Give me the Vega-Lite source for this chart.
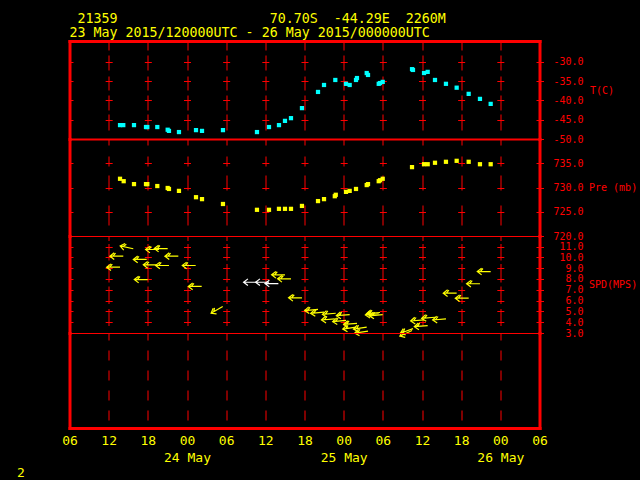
{
  "$schema": "https://vega.github.io/schema/vega-lite/v6.json",
  "background": "#000000",
  "padding": {"left": 16.5, "top": 11, "right": 5, "bottom": 12},
  "spacing": 0,
  "bounds": "flush",
  "title": {
    "text": ["\u200b\u00a021359\u00a0\u00a0\u00a0\u00a0\u00a0\u00a0\u00a0\u00a0\u00a0\u00a0\u00a0\u00a0\u00a0\u00a0\u00a0\u00a0\u00a0\u00a0\u00a070.70S\u00a0\u00a0-44.29E\u00a0\u00a02260M", "23\u00a0May\u00a02015/120000UTC\u00a0-\u00a026\u00a0May\u00a02015/000000UTC"],
    "anchor": "start",
    "frame": "group",
    "font": "DejaVu Sans Mono",
    "fontSize": 13.3,
    "fontWeight": "normal",
    "color": "#ffff00",
    "lineHeight": 14,
    "offset": 2
  },
  "config": {
    "view": {"stroke": null},
    "font": "DejaVu Sans Mono",
    "axis": {
      "labelFont": "DejaVu Sans Mono",
      "titleFont": "DejaVu Sans Mono",
      "labelColor": "#ff0000",
      "titleColor": "#ff0000",
      "labelFontSize": 10,
      "titleFontSize": 10,
      "titleFontWeight": "normal",
      "domainColor": "#ff0000",
      "tickColor": "#ff0000",
      "gridColor": "#ff0000",
      "gridOpacity": 1,
      "gridWidth": 1,
      "domainCap": "square"
    }
  },
  "datasets": {
    "temp": [
      {"t": 13.74, "T": -46.4}, {"t": 14.24, "T": -46.4}, {"t": 15.88, "T": -46.4},
      {"t": 17.72, "T": -46.9}, {"t": 17.92, "T": -46.9}, {"t": 19.45, "T": -46.9},
      {"t": 21.04, "T": -47.6}, {"t": 21.24, "T": -47.9}, {"t": 22.77, "T": -48.2},
      {"t": 25.38, "T": -47.7}, {"t": 26.30, "T": -47.9}, {"t": 29.51, "T": -47.7},
      {"t": 34.72, "T": -48.2}, {"t": 36.56, "T": -46.9}, {"t": 38.09, "T": -46.4},
      {"t": 39.01, "T": -45.3}, {"t": 39.93, "T": -44.6}, {"t": 41.61, "T": -42.0},
      {"t": 44.07, "T": -37.8}, {"t": 44.99, "T": -36.0}, {"t": 46.72, "T": -34.7},
      {"t": 48.36, "T": -35.7}, {"t": 48.92, "T": -36.0}, {"t": 49.89, "T": -34.7},
      {"t": 50.04, "T": -34.2}, {"t": 51.53, "T": -32.9}, {"t": 51.73, "T": -33.4},
      {"t": 53.37, "T": -35.7}, {"t": 53.57, "T": -35.5}, {"t": 53.98, "T": -35.2},
      {"t": 58.47, "T": -31.9}, {"t": 58.62, "T": -32.1}, {"t": 60.31, "T": -32.9},
      {"t": 60.87, "T": -32.6}, {"t": 61.99, "T": -34.7}, {"t": 63.67, "T": -35.7},
      {"t": 65.31, "T": -36.7}, {"t": 67.15, "T": -38.3}, {"t": 68.88, "T": -39.6},
      {"t": 70.52, "T": -40.9}
    ],
    "pres": [
      {"t": 13.74, "P": 731.8}, {"t": 14.30, "P": 731.3}, {"t": 15.88, "P": 730.7},
      {"t": 17.72, "P": 730.7}, {"t": 17.92, "P": 730.7}, {"t": 19.45, "P": 730.3},
      {"t": 21.04, "P": 729.9}, {"t": 21.24, "P": 729.7}, {"t": 22.77, "P": 729.3},
      {"t": 25.38, "P": 728.0}, {"t": 26.30, "P": 727.6}, {"t": 29.51, "P": 726.6},
      {"t": 34.72, "P": 725.4}, {"t": 36.56, "P": 725.4}, {"t": 38.09, "P": 725.6},
      {"t": 39.01, "P": 725.6}, {"t": 39.93, "P": 725.6}, {"t": 41.61, "P": 726.2},
      {"t": 44.07, "P": 727.2}, {"t": 44.99, "P": 727.6}, {"t": 46.64, "P": 728.2},
      {"t": 46.79, "P": 728.5}, {"t": 48.36, "P": 729.1}, {"t": 48.92, "P": 729.3},
      {"t": 49.89, "P": 729.7}, {"t": 51.53, "P": 730.5}, {"t": 51.73, "P": 730.7},
      {"t": 53.37, "P": 731.3}, {"t": 53.57, "P": 731.5}, {"t": 53.98, "P": 731.8},
      {"t": 58.47, "P": 734.2}, {"t": 60.31, "P": 734.8}, {"t": 60.87, "P": 734.8},
      {"t": 61.99, "P": 735.1}, {"t": 63.67, "P": 735.3}, {"t": 65.31, "P": 735.5},
      {"t": 67.15, "P": 735.3}, {"t": 68.88, "P": 734.8}, {"t": 70.52, "P": 734.8}
    ],
    "wind": [
      {"t": 13.74, "s": 9.09, "rot": 0, "c": "y"}, {"t": 14.24, "s": 10.11, "rot": 0, "c": "y"},
      {"t": 15.77, "s": 10.80, "rot": 12, "c": "y"}, {"t": 17.83, "s": 9.81, "rot": 0, "c": "y"},
      {"t": 17.98, "s": 7.95, "rot": 0, "c": "y"}, {"t": 19.36, "s": 9.31, "rot": 0, "c": "y"},
      {"t": 19.71, "s": 10.73, "rot": 0, "c": "y"}, {"t": 21.04, "s": 10.82, "rot": 0, "c": "y"},
      {"t": 21.24, "s": 9.25, "rot": 0, "c": "y"}, {"t": 22.67, "s": 10.11, "rot": 0, "c": "y"},
      {"t": 25.33, "s": 9.25, "rot": 0, "c": "y"}, {"t": 26.25, "s": 7.31, "rot": 0, "c": "y"},
      {"t": 29.47, "s": 5.45, "rot": -30, "c": "y"},
      {"t": 34.72, "s": 7.70, "rot": 0, "c": "w"}, {"t": 36.56, "s": 7.70, "rot": 0, "c": "w"},
      {"t": 38.00, "s": 7.58, "rot": 0, "c": "w"},
      {"t": 39.01, "s": 8.39, "rot": 0, "c": "y"}, {"t": 39.93, "s": 8.02, "rot": 0, "c": "y"},
      {"t": 41.61, "s": 6.26, "rot": 0, "c": "y"}, {"t": 44.07, "s": 5.18, "rot": -5, "c": "y"},
      {"t": 44.99, "s": 4.93, "rot": -5, "c": "y"}, {"t": 46.79, "s": 4.83, "rot": -5, "c": "y"},
      {"t": 46.64, "s": 4.31, "rot": -5, "c": "y"}, {"t": 48.36, "s": 4.16, "rot": -5, "c": "y"},
      {"t": 48.92, "s": 4.71, "rot": -5, "c": "y"}, {"t": 49.89, "s": 3.54, "rot": -8, "c": "y"},
      {"t": 50.04, "s": 3.90, "rot": -5, "c": "y"}, {"t": 51.53, "s": 3.54, "rot": -8, "c": "y"},
      {"t": 51.73, "s": 3.17, "rot": -8, "c": "y"}, {"t": 53.37, "s": 4.78, "rot": -5, "c": "y"},
      {"t": 53.57, "s": 4.90, "rot": -5, "c": "y"}, {"t": 53.98, "s": 4.70, "rot": -5, "c": "y"},
      {"t": 58.47, "s": 3.23, "rot": -25, "c": "y"}, {"t": 58.62, "s": 3.40, "rot": -20, "c": "y"},
      {"t": 60.31, "s": 4.22, "rot": -5, "c": "y"}, {"t": 60.87, "s": 3.69, "rot": -5, "c": "y"},
      {"t": 61.99, "s": 4.46, "rot": -5, "c": "y"}, {"t": 63.67, "s": 4.31, "rot": -5, "c": "y"},
      {"t": 65.31, "s": 6.69, "rot": 0, "c": "y"}, {"t": 67.15, "s": 6.22, "rot": 0, "c": "y"},
      {"t": 68.88, "s": 7.56, "rot": 0, "c": "y"}, {"t": 70.52, "s": 8.69, "rot": 0, "c": "y"}
    ]
  },
  "vconcat": [
    {
      "width": 470,
      "height": 98,
      "data": {"name": "temp"},
      "layer": [
        {
          "mark": {"type": "point", "shape": "square", "filled": true, "color": "#00ffff", "size": 18, "opacity": 1},
          "encoding": {
            "x": {"field": "t", "type": "quantitative", "scale": {"domain": [6, 78], "nice": false, "zero": false},
              "axis": {"orient": "top", "values": [6, 12, 18, 24, 30, 36, 42, 48, 54, 60, 66, 72, 78], "labels": false, "ticks": false, "domainWidth": 3, "grid": true, "gridDash": [0, 9, 16, 4, 15, 5, 14, 6, 15, 5, 15], "title": null}},
            "y": {"field": "T", "type": "quantitative", "scale": {"domain": [-50, -24.6], "nice": false, "zero": false},
              "axis": {"orient": "right", "values": [-50, -45, -40, -35, -30], "labelExpr": "'-' + format(abs(datum.value), '.1f')", "labelAlign": "right", "labelBaseline": "middle", "tickSize": 4, "labelPadding": 39.5, "domainWidth": 3, "grid": true, "gridDash": [7, 32.1667], "gridDashOffset": 3.5, "title": "T(C)", "titleAngle": 0, "titleAlign": "left", "titleBaseline": "middle", "titleX": 50, "titleY": 49}}
          }
        },
        {
          "mark": {"type": "point", "opacity": 0},
          "encoding": {
            "y": {"field": "T", "type": "quantitative", "axis": {"orient": "left", "labels": false, "ticks": false, "grid": false, "domainWidth": 3, "title": null}}
          }
        }
      ],
      "resolve": {"axis": {"y": "independent"}}
    },
    {
      "width": 470,
      "height": 97,
      "data": {"name": "pres"},
      "layer": [
        {
          "mark": {"type": "point", "shape": "square", "filled": true, "color": "#ffff00", "size": 18, "opacity": 1},
          "encoding": {
            "x": {"field": "t", "type": "quantitative", "scale": {"domain": [6, 78], "nice": false, "zero": false},
              "axis": {"orient": "top", "values": [6, 12, 18, 24, 30, 36, 42, 48, 54, 60, 66, 72, 78], "labels": false, "ticks": false, "domainWidth": 2, "grid": true, "gridDash": [0, 11, 20, 15, 15, 9, 10, 11, 10], "title": null}},
            "y": {"field": "P", "type": "quantitative", "scale": {"domain": [720, 740], "nice": false, "zero": false},
              "axis": {"orient": "right", "values": [720, 725, 730, 735], "labelExpr": "format(datum.value, '.1f')", "labelAlign": "right", "labelBaseline": "middle", "tickSize": 4, "labelPadding": 39.5, "domainWidth": 3, "grid": true, "gridDash": [7, 32.1667], "gridDashOffset": 3.5, "title": "Pre (mb)", "titleAngle": 0, "titleAlign": "left", "titleBaseline": "middle", "titleX": 49, "titleY": 48.5}}
          }
        },
        {
          "mark": {"type": "point", "opacity": 0},
          "encoding": {
            "y": {"field": "P", "type": "quantitative", "axis": {"orient": "left", "labels": false, "ticks": false, "grid": false, "domainWidth": 3, "title": null}}
          }
        }
      ],
      "resolve": {"axis": {"y": "independent"}}
    },
    {
      "width": 470,
      "height": 97,
      "data": {"name": "wind"},
      "layer": [
        {
          "mark": {"type": "point", "filled": false, "strokeWidth": 1.2, "size": 180, "opacity": 1},
          "encoding": {
            "x": {"field": "t", "type": "quantitative", "scale": {"domain": [6, 78], "nice": false, "zero": false},
              "axis": {"orient": "top", "values": [6, 12, 18, 24, 30, 36, 42, 48, 54, 60, 66, 72, 78], "labels": false, "ticks": false, "domainWidth": 1, "grid": true, "gridDash": [0, 7.5, 17, 5, 17.5, 4, 18.5, 3.5, 16.5, 3, 10], "title": null}},
            "y": {"field": "s", "type": "quantitative", "scale": {"domain": [3, 11.98], "nice": false, "zero": false},
              "axis": {"orient": "right", "values": [3, 4, 5, 6, 7, 8, 9, 10, 11], "labelExpr": "format(datum.value, '.1f')", "labelAlign": "right", "labelBaseline": "middle", "tickSize": 4, "labelPadding": 39.5, "domainWidth": 3, "grid": true, "gridDash": [7, 32.1667], "gridDashOffset": 3.5, "title": "SPD(MPS)", "titleAngle": 0, "titleAlign": "left", "titleBaseline": "middle", "titleX": 49, "titleY": 48}},
            "shape": {"field": "c", "type": "nominal", "legend": null,
              "scale": {"domain": ["y", "w"], "range": ["M0,0L-2,0M-1.35,-0.5L-2,0L-1.35,0.5M-1.55,0L-1.15,-0.45", "M0,0L-2,0M-1.35,-0.5L-2,0L-1.35,0.5"]}},
            "color": {"field": "c", "type": "nominal", "legend": null,
              "scale": {"domain": ["y", "w"], "range": ["#ffff00", "#ffffff"]}},
            "angle": {"field": "rot", "type": "quantitative", "scale": null}
          }
        },
        {
          "mark": {"type": "point", "opacity": 0},
          "encoding": {
            "y": {"field": "s", "type": "quantitative", "axis": {"orient": "left", "labels": false, "ticks": false, "grid": false, "domainWidth": 3, "title": null}}
          }
        }
      ],
      "resolve": {"axis": {"y": "independent"}}
    },
    {
      "width": 470,
      "height": 95,
      "data": {"name": "wind"},
      "layer": [
        {
          "mark": {"type": "point", "opacity": 0},
          "encoding": {
            "x": {"field": "t", "type": "quantitative", "scale": {"domain": [6, 78], "nice": false, "zero": false},
              "axis": {"orient": "bottom", "values": [6, 12, 18, 24, 30, 36, 42, 48, 54, 60, 66, 72, 78],
                "labelExpr": "datum.value % 24 == 0 ? ['00', (23 + datum.value / 24) + ' May'] : ((datum.value % 24 < 10 ? '0' : '') + (datum.value % 24))",
                "labelColor": "#ffff00", "labelFontSize": 13, "labelLineHeight": 17, "labelFlush": false, "labelOverlap": false, "labelBound": false, "labelPadding": 6, "labelBaseline": "top",
                "ticks": false, "domainWidth": 3, "grid": true, "gridDash": [7, 10, 10, 10, 10, 10, 10, 10, 10, 10, 10],
                "title": "2", "titleX": -53, "titleY": 44, "titleAlign": "left", "titleBaseline": "middle", "titleColor": "#ffff00", "titleFontSize": 13, "titleFontWeight": "normal", "titleAngle": 0}},
            "y": {"datum": 0.5, "type": "quantitative", "scale": {"domain": [0, 1]},
              "axis": {"orient": "left", "labels": false, "ticks": false, "grid": false, "domainWidth": 3, "title": null}}
          }
        },
        {
          "mark": {"type": "point", "opacity": 0},
          "encoding": {
            "x": {"field": "t", "type": "quantitative",
              "axis": {"orient": "top", "labels": false, "ticks": false, "grid": false, "domainWidth": 1, "title": null}},
            "y": {"datum": 0.5, "type": "quantitative",
              "axis": {"orient": "right", "labels": false, "ticks": false, "grid": false, "domainWidth": 3, "title": null}}
          }
        }
      ],
      "resolve": {"axis": {"x": "independent", "y": "independent"}}
    }
  ]
}
